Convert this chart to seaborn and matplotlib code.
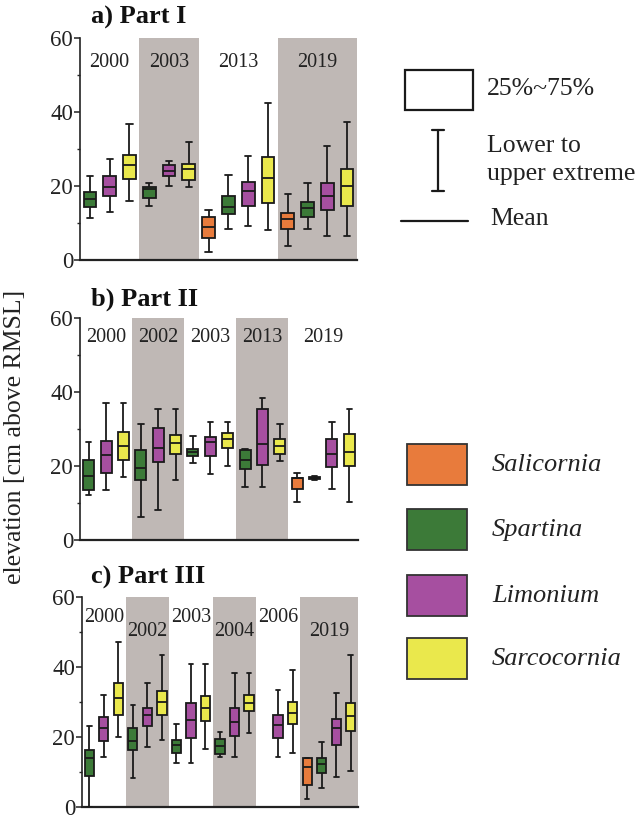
import numpy as np
import pandas as pd
import matplotlib
matplotlib.use("Agg")
import matplotlib.pyplot as plt
import matplotlib.patches as mpatches
from matplotlib.ticker import MultipleLocator
import seaborn as sns

sns.set_theme(style="ticks")
plt.rcParams['font.family'] = ['Liberation Serif', 'DejaVu Serif']
plt.rcParams['mathtext.fontset'] = 'stix'

SPECIES = ["Salicornia", "Spartina", "Limonium", "Sarcocornia"]
COLORS = ["#E87B3C", "#3C7A38", "#A64FA0", "#EAE84C"]

# ---------------- Panel a) Part I ----------------
a_years = ["2000", "2003", "2013", "2019"]
a_groups = [["Spartina", "Limonium", "Sarcocornia"],
            ["Spartina", "Limonium", "Sarcocornia"],
            ["Salicornia", "Spartina", "Limonium", "Sarcocornia"],
            ["Salicornia", "Spartina", "Limonium", "Sarcocornia"]]
a_low  = [11.3, 13.0, 16.0,  14.7, 19.9, 19.8,  2.2, 8.3, 9.2, 8.1,   3.9, 8.3, 6.4, 6.4]
a_q1   = [14.2, 17.3, 21.9,  16.8, 22.6, 21.7,  6.0, 12.3, 14.7, 15.3, 8.5, 11.6, 13.4, 14.6]
a_mid  = [16.5, 19.6, 25.8,  19.2, 24.0, 24.5,  9.0, 14.3, 18.7, 22.1, 11.1, 14.0, 17.4, 19.9]
a_q3   = [18.4, 22.7, 28.4,  19.6, 25.7, 25.9,  11.5, 17.3, 21.1, 27.8, 12.6, 15.6, 20.7, 24.5]
a_high = [22.8, 27.2, 36.8,  20.8, 26.8, 31.8,  13.4, 23.1, 28.2, 42.5, 17.8, 20.8, 30.9, 37.4]

# ---------------- Panel b) Part II ----------------
b_years = ["2000", "2002", "2003", "2013", "2019"]
b_groups = [["Spartina", "Limonium", "Sarcocornia"],
            ["Spartina", "Limonium", "Sarcocornia"],
            ["Spartina", "Limonium", "Sarcocornia"],
            ["Spartina", "Limonium", "Sarcocornia"],
            ["Salicornia", "Spartina", "Limonium", "Sarcocornia"]]
b_low  = [12.1, 13.4, 17.1,  6.2, 8.1, 16.2,  20.9, 17.8, 19.9,  14.3, 14.3, 21.4,  10.3, 16.3, 13.9, 10.4]
b_q1   = [13.4, 18.2, 21.6,  16.2, 21.2, 23.3,  22.8, 22.8, 24.8,  19.3, 20.3, 23.3,  13.9, 16.5, 19.7, 19.9]
b_mid  = [17.4, 23.0, 25.5,  19.5, 25.0, 26.3,  23.9, 26.4, 27.4,  21.6, 26.0, 25.3,  16.8, 16.8, 23.2, 23.8]
b_q3   = [21.6, 26.7, 29.2,  24.3, 30.4, 28.3,  24.7, 27.8, 28.9,  24.4, 35.5, 27.4,  16.8, 17.1, 27.3, 28.6]
b_high = [26.5, 37.1, 37.1,  31.4, 35.5, 35.5,  28.1, 31.9, 31.9,  24.6, 38.5, 31.4,  18.2, 17.3, 31.8, 35.3]

# ---------------- Panel c) Part III ----------------
c_years = ["2000", "2002", "2003", "2004", "2006", "2019"]
c_groups = [["Spartina", "Limonium", "Sarcocornia"],
            ["Spartina", "Limonium", "Sarcocornia"],
            ["Spartina", "Limonium", "Sarcocornia"],
            ["Spartina", "Limonium", "Sarcocornia"],
            [None, "Limonium", "Sarcocornia"],
            ["Salicornia", "Spartina", "Limonium", "Sarcocornia"]]
c_low  = [0.0, 14.3, 19.9,  8.2, 17.1, 19.1,  12.7, 12.7, 16.7,  14.3, 14.3, 21.1,  14.3, 15.5,  2.3, 5.4, 8.6, 10.3]
c_q1   = [8.9, 19.0, 26.3,  16.2, 23.2, 26.2,  15.4, 19.7, 24.7,  15.2, 20.2, 27.4,  19.7, 23.6,  6.2, 9.8, 17.6, 21.8]
c_mid  = [14.0, 22.7, 31.1, 18.9, 26.4, 30.0,  17.7, 24.9, 28.3,  17.3, 24.4, 29.7,  23.3, 26.9,  11.3, 12.4, 22.5, 25.9]
c_q3   = [16.3, 25.7, 35.4, 22.6, 28.2, 33.2,  19.2, 29.7, 31.8,  19.4, 28.3, 31.9,  26.2, 30.0,  13.9, 14.1, 25.2, 29.8]
c_high = [23.1, 32.1, 47.1, 29.2, 35.3, 43.3,  23.8, 40.8, 40.8,  21.3, 38.3, 38.3,  33.5, 39.2,  14.1, 18.5, 32.6, 43.3]

Y_TICKS = [0, 20, 40, 60]


def build_frame(groups, low, q1, mid, q3, high):
    rows = []
    k = 0
    slot = 0
    for g in groups:
        for sp in g:
            if sp is not None:
                for v in (low[k], q1[k], mid[k], q3[k], high[k]):
                    rows.append({"pos": slot, "species": sp, "val": v})
                k += 1
            slot += 1
    return pd.DataFrame(rows), slot


def draw_panel(rect, title, title_xy, years, groups, stats, label_y):
    ax = fig.add_axes(rect)
    df, nslots = build_frame(groups, *stats)
    start = 0
    centers = []
    for gi, g in enumerate(groups):
        end = start + len(g) - 1
        centers.append((start + end) / 2)
        if gi % 2 == 1:
            ax.axvspan(start - 0.5, end + 0.5, color="#bfb8b5", lw=0, zorder=0)
        start = end + 1
    sns.boxplot(data=df, x="pos", y="val", hue="species", hue_order=SPECIES,
                palette=COLORS, dodge=False, native_scale=True, whis=(0, 100),
                width=0.64, linecolor="#1a1a1a", linewidth=1.3, showfliers=False,
                saturation=1, legend=False, ax=ax, zorder=3)
    ax.set_xlim(-0.5, nslots - 0.5)
    ax.set_ylim(0, 60)
    ax.set_xticks([])
    ax.set_yticks(Y_TICKS)
    ax.yaxis.set_minor_locator(MultipleLocator(10))
    ax.tick_params(axis="y", which="major", length=4, width=1.1, labelsize=16.5,
                   pad=1, colors="#222222")
    ax.tick_params(axis="y", which="minor", length=2.5, width=1.0)
    ax.set_xlabel("")
    ax.set_ylabel("")
    for s in ("top", "right"):
        ax.spines[s].set_visible(False)
    ax.spines["left"].set_linewidth(1.2)
    ax.spines["bottom"].set_linewidth(1.6)
    ax.spines["left"].set_color("#222222")
    ax.spines["bottom"].set_color("#222222")
    ax.set_facecolor("none")
    for yr, cx, ly in zip(years, centers, label_y):
        ax.text(cx, ly, yr, ha="center", va="center", fontsize=14.5, color="#222222")
    fig.text(title_xy[0] / W, 1 - title_xy[1] / H, title, fontsize=19,
             fontweight="bold", ha="left", va="center", color="#111111")
    return ax


W, H = 638, 821
fig = plt.figure(figsize=(W / 100, H / 100), dpi=100)


def rect_px(x0, x1, ytop, ybot):
    return [x0 / W, 1 - ybot / H, (x1 - x0) / W, (ybot - ytop) / H]


draw_panel(rect_px(80, 357, 38, 260), "a) Part I", (91, 17), a_years, a_groups,
           (a_low, a_q1, a_mid, a_q3, a_high), [53.5] * 4)
draw_panel(rect_px(80, 358, 318, 540), "b) Part II", (91, 299), b_years, b_groups,
           (b_low, b_q1, b_mid, b_q3, b_high), [54.6] * 5)
draw_panel(rect_px(82, 358, 597, 807), "c) Part III", (91, 577), c_years, c_groups,
           (c_low, c_q1, c_mid, c_q3, c_high), [54.2, 50.1, 54.2, 50.1, 54.2, 50.1])

fig.text(15 / W, 1 - 437 / H, "elevation [cm above RMSL]", rotation=90,
         ha="center", va="center", fontsize=18.5, color="#222222")

# ---------------- legend (pixel overlay) ----------------
lg = fig.add_axes([0, 0, 1, 1])
lg.set_xlim(0, W)
lg.set_ylim(H, 0)
lg.axis("off")
lg.patch.set_alpha(0)

lg.add_patch(mpatches.Rectangle((405, 70), 68, 40, fill=False, ec="#1a1a1a", lw=1.6))
lg.text(487, 89, "25%~75%", fontsize=18.5, va="center", ha="left", color="#222222")
lg.plot([438, 438], [130, 191], color="#1a1a1a", lw=1.6)
lg.plot([432, 444], [130, 130], color="#1a1a1a", lw=1.6)
lg.plot([432, 444], [191, 191], color="#1a1a1a", lw=1.6)
lg.text(487, 146, "Lower to", fontsize=18.5, va="center", ha="left", color="#222222")
lg.text(487, 174, "upper extreme", fontsize=18.5, va="center", ha="left", color="#222222")
lg.plot([401, 468], [221, 221], color="#1a1a1a", lw=1.6)
lg.text(490, 219, "Mean", fontsize=18.5, va="center", ha="left", color="#222222")

sp_y = [444, 509, 575, 638]
for name, col, y in zip(SPECIES, COLORS, sp_y):
    lg.add_patch(mpatches.Rectangle((407, y), 60, 41, fc=col, ec="#333333", lw=1.3))
    lg.text(492, y + 21, name, fontsize=19, style="italic", va="center", ha="left",
            color="#222222")

fig.savefig("out.png", dpi=100)
